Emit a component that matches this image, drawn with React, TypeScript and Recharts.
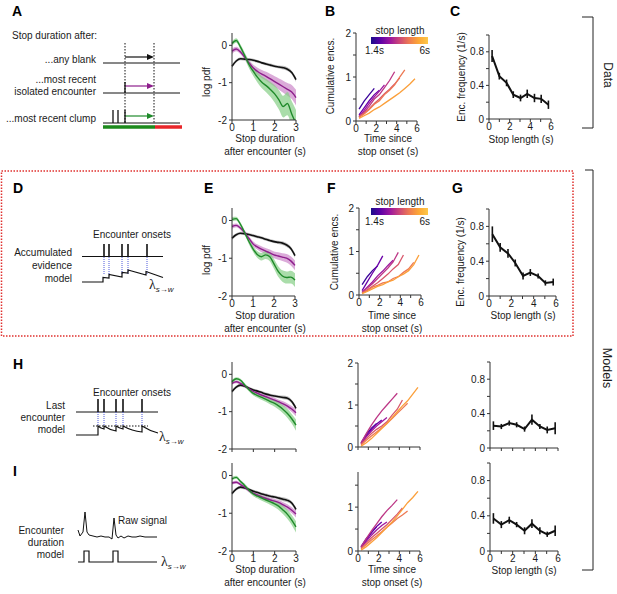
import React from 'react';
import { ComposedChart, LineChart, Line, Area, XAxis, YAxis, ErrorBar } from 'recharts';

const FONT = '"Liberation Sans", Arial, Helvetica, sans-serif';
const INK = '#1a1a1a';
const AXIS = '#333333';
const PURPLE = '#8e1f8c';
const PURPLE_FILL = '#cf8fcc';
const GREEN = '#1f8a2a';
const GREEN_FILL = '#86cf86';
const BLUE_DOT = '#3a48d8';
const RED_BOX = '#e0302e';

// log pdf panels: stop duration after encounter (s)
const PDF_X = [0, 0.2, 0.4, 0.6, 0.8, 1.0, 1.2, 1.4, 1.6, 1.8, 2.0, 2.2, 2.4, 2.6, 2.8, 3.0];
const BLACK_BAND = [0.05, 0.04, 0.04, 0.04, 0.04, 0.04, 0.04, 0.04, 0.04, 0.04, 0.04, 0.04, 0.05, 0.05, 0.05, 0.06];

const A_BLACK = [-0.56, -0.42, -0.36, -0.37, -0.38, -0.4, -0.43, -0.47, -0.5, -0.53, -0.56, -0.58, -0.6, -0.64, -0.73, -0.92];
const A_PURPLE = [-0.16, -0.1, -0.18, -0.32, -0.47, -0.61, -0.7, -0.77, -0.83, -0.9, -0.97, -1.04, -1.11, -1.18, -1.25, -1.4];
const A_GREEN = [0.05, 0.13, -0.05, -0.28, -0.52, -0.7, -0.86, -0.99, -1.08, -1.18, -1.3, -1.46, -1.64, -1.56, -1.84, -2.1];
const A_PURPLE_BAND = [0.07, 0.06, 0.06, 0.07, 0.08, 0.09, 0.1, 0.11, 0.12, 0.13, 0.14, 0.15, 0.16, 0.17, 0.19, 0.21];
const A_GREEN_BAND = [0.06, 0.06, 0.07, 0.08, 0.1, 0.12, 0.14, 0.16, 0.18, 0.2, 0.23, 0.26, 0.29, 0.31, 0.34, 0.37];

const E_BLACK = [-0.47, -0.38, -0.34, -0.35, -0.37, -0.4, -0.43, -0.46, -0.5, -0.53, -0.56, -0.58, -0.6, -0.65, -0.74, -0.93];
const E_PURPLE = [-0.16, -0.13, -0.2, -0.32, -0.47, -0.62, -0.7, -0.76, -0.81, -0.86, -0.91, -0.94, -0.97, -1.0, -1.07, -1.19];
const E_GREEN = [0.03, 0.05, -0.1, -0.32, -0.55, -0.75, -0.9, -0.96, -0.91, -0.96, -1.15, -1.35, -1.47, -1.51, -1.5, -1.58];
const E_PURPLE_BAND = [0.06, 0.05, 0.05, 0.06, 0.06, 0.07, 0.07, 0.08, 0.08, 0.09, 0.09, 0.1, 0.1, 0.11, 0.12, 0.13];
const E_GREEN_BAND = [0.06, 0.05, 0.05, 0.06, 0.07, 0.08, 0.09, 0.1, 0.11, 0.12, 0.13, 0.14, 0.15, 0.16, 0.17, 0.18];

const H_BLACK = [-0.46, -0.34, -0.29, -0.32, -0.37, -0.42, -0.45, -0.49, -0.53, -0.56, -0.58, -0.6, -0.62, -0.64, -0.73, -0.91];
const H_PURPLE = [-0.24, -0.2, -0.24, -0.31, -0.39, -0.46, -0.51, -0.56, -0.6, -0.65, -0.69, -0.74, -0.79, -0.85, -0.93, -1.03];
const H_GREEN = [-0.2, -0.12, -0.16, -0.29, -0.41, -0.51, -0.57, -0.62, -0.67, -0.73, -0.78, -0.85, -0.94, -1.05, -1.19, -1.36];
const H_PURPLE_BAND = [0.04, 0.04, 0.04, 0.04, 0.04, 0.05, 0.05, 0.05, 0.05, 0.06, 0.06, 0.06, 0.07, 0.07, 0.08, 0.09];
const H_GREEN_BAND = [0.05, 0.04, 0.04, 0.05, 0.05, 0.06, 0.06, 0.07, 0.07, 0.08, 0.09, 0.1, 0.11, 0.12, 0.13, 0.15];

const I_BLACK = [-0.48, -0.36, -0.31, -0.33, -0.37, -0.42, -0.45, -0.49, -0.52, -0.55, -0.57, -0.6, -0.63, -0.66, -0.73, -0.9];
const I_PURPLE = [-0.2, -0.18, -0.24, -0.31, -0.4, -0.47, -0.52, -0.57, -0.61, -0.65, -0.68, -0.72, -0.78, -0.84, -0.92, -1.02];
const I_GREEN = [-0.09, -0.05, -0.16, -0.27, -0.39, -0.49, -0.55, -0.6, -0.65, -0.7, -0.75, -0.82, -0.92, -1.03, -1.18, -1.36];
const I_PURPLE_BAND = [0.04, 0.04, 0.04, 0.04, 0.05, 0.05, 0.05, 0.05, 0.06, 0.06, 0.06, 0.07, 0.07, 0.08, 0.08, 0.09];
const I_GREEN_BAND = [0.05, 0.04, 0.04, 0.05, 0.05, 0.06, 0.06, 0.07, 0.07, 0.08, 0.09, 0.1, 0.11, 0.12, 0.13, 0.15];

// cumulative encounters vs time since stop onset, one line per stop-length bin
const CUM_X = [0.3, 0.8, 1.3, 1.8, 2.3, 2.8, 3.3, 3.8, 4.3, 4.8, 5.3, 5.8];
const STOP_COLORS = ['#3b049a', '#6a00a8', '#9c179e', '#bd3786', '#d8576b', '#ed7953', '#fb9f3a'];

const B_LINES = [
  [0.27, 0.45, 0.6, 0.74],
  [0.14, 0.3, 0.46, 0.6, 0.7],
  [0.1, 0.24, 0.4, 0.55, 0.68, 0.82],
  [0.1, 0.2, 0.34, 0.5, 0.6, 0.76, 0.92, 1.12],
  [0.1, 0.18, 0.28, 0.4, 0.5, 0.62, 0.72, 0.84, 0.98],
  [0.08, 0.16, 0.26, 0.38, 0.46, 0.6, 0.7, 0.82, 1.0, 1.16],
  [0.06, 0.12, 0.18, 0.26, 0.32, 0.4, 0.48, 0.56, 0.64, 0.74, 0.84, 0.96],
];
const F_LINES = [
  [0.24, 0.42, 0.56, 0.67],
  [0.1, 0.3, 0.5, 0.68, 0.9],
  [0.06, 0.18, 0.3, 0.44, 0.55, 0.68, 0.8],
  [0.06, 0.16, 0.26, 0.38, 0.5, 0.62, 0.76, 0.98],
  [0.05, 0.12, 0.2, 0.28, 0.38, 0.48, 0.6, 0.7, 0.92],
  [0.04, 0.1, 0.18, 0.22, 0.28, 0.3, 0.38, 0.42, 0.52, 0.6, 0.75],
  [0.03, 0.08, 0.14, 0.2, 0.24, 0.3, 0.34, 0.42, 0.48, 0.56, 0.7, 0.92],
];
const H_LINES = [
  [0.1, 0.3, 0.45, 0.56],
  [0.08, 0.26, 0.42, 0.55, 0.64],
  [0.08, 0.24, 0.38, 0.5, 0.6, 0.7],
  [0.1, 0.32, 0.52, 0.7, 0.86, 1.0, 1.14, 1.28],
  [0.06, 0.2, 0.32, 0.42, 0.5, 0.6, 0.76, 0.9, 1.12],
  [0.05, 0.16, 0.26, 0.36, 0.46, 0.56, 0.68, 0.8, 0.92, 1.04],
  [0.02, 0.1, 0.2, 0.32, 0.44, 0.56, 0.7, 0.84, 0.98, 1.1, 1.26, 1.42],
];
const I_LINES = [
  [0.1, 0.28, 0.42, 0.55],
  [0.08, 0.25, 0.42, 0.56, 0.66],
  [0.08, 0.22, 0.36, 0.48, 0.58, 0.66],
  [0.1, 0.28, 0.46, 0.62, 0.78, 0.92, 1.04, 1.17],
  [0.06, 0.18, 0.3, 0.4, 0.5, 0.6, 0.72, 0.84, 0.98],
  [0.05, 0.15, 0.25, 0.34, 0.44, 0.54, 0.64, 0.74, 0.82, 0.91],
  [0.02, 0.1, 0.2, 0.3, 0.42, 0.54, 0.66, 0.8, 0.95, 1.1, 1.22, 1.36],
];

// encounter frequency vs stop length
const STOP_X = [0.3, 1.0, 1.7, 2.35, 3.05, 3.7, 4.4, 5.05, 5.75];
const C_FREQ = [0.75, 0.51, 0.43, 0.29, 0.25, 0.3, 0.25, 0.24, 0.17];
const C_ERR = [0.07, 0.04, 0.04, 0.04, 0.04, 0.05, 0.05, 0.05, 0.05];
const G_FREQ = [0.71, 0.56, 0.49, 0.38, 0.23, 0.27, 0.23, 0.15, 0.16];
const G_ERR = [0.09, 0.05, 0.05, 0.04, 0.04, 0.04, 0.03, 0.03, 0.04];
const H_FREQ = [0.26, 0.25, 0.29, 0.27, 0.22, 0.33, 0.25, 0.21, 0.23];
const H_ERR = [0.05, 0.03, 0.03, 0.03, 0.03, 0.06, 0.03, 0.04, 0.07];
const I_FREQ = [0.37, 0.3, 0.35, 0.3, 0.23, 0.31, 0.23, 0.19, 0.23];
const I_ERR = [0.06, 0.04, 0.04, 0.03, 0.04, 0.05, 0.04, 0.03, 0.06];

const PDF_TICKS_X = [0, 1, 2, 3];
const PDF_TICKS_Y = [-2, -1, 0];
const SIX_TICKS = [0, 1, 2, 3, 4, 5, 6];
const FREQ_TICKS_Y = [0, 0.2, 0.4, 0.6, 0.8, 1.0];

const L = 30;
const R = 6;
const T = 6;
const B = 18;

const tickStyle = { fontSize: 10, fill: INK, fontFamily: FONT };
const evenOnly = (v: number) => (v % 2 === 0 ? String(v) : '');
const blank = () => '';

type Box = { x0: number; x1: number; top: number; bottom: number };

const frame = (b: Box): React.CSSProperties => ({ position: 'absolute', left: b.x0 - L, top: b.top - T });

interface PdfProps extends Box {
  black: number[];
  purple: number[];
  green: number[];
  purpleBand: number[];
  greenBand: number[];
  xLabels?: boolean;
}

const PdfChart: React.FC<PdfProps> = (p) => {
  const rows = PDF_X.map((x, i) => ({
    x,
    black: p.black[i],
    purple: p.purple[i],
    green: p.green[i],
    blackR: [p.black[i] - BLACK_BAND[i], p.black[i] + BLACK_BAND[i]],
    purpleR: [p.purple[i] - p.purpleBand[i], p.purple[i] + p.purpleBand[i]],
    greenR: [p.green[i] - p.greenBand[i], p.green[i] + p.greenBand[i]],
  }));
  return (
    <div style={frame(p)}>
      <ComposedChart width={p.x1 - p.x0 + L + R} height={p.bottom - p.top + T + B} data={rows}
        margin={{ top: T, right: R, bottom: 0, left: 0 }}>
        <XAxis type="number" dataKey="x" domain={[0, 3]} ticks={PDF_TICKS_X} interval={0} height={B}
          tick={tickStyle} tickSize={3} tickMargin={1} stroke={AXIS}
          tickFormatter={p.xLabels ? (v: number) => String(v) : blank} />
        <YAxis type="number" domain={[-2, 0.33]} allowDataOverflow ticks={PDF_TICKS_Y} interval={0} width={L}
          tick={tickStyle} tickSize={3} tickMargin={2} stroke={AXIS} />
        <Area dataKey="blackR" type="monotone" stroke="none" fill="#9a9a9a" fillOpacity={0.6} isAnimationActive={false} />
        <Area dataKey="purpleR" type="monotone" stroke="none" fill={PURPLE_FILL} fillOpacity={0.75} isAnimationActive={false} />
        <Area dataKey="greenR" type="monotone" stroke="none" fill={GREEN_FILL} fillOpacity={0.7} isAnimationActive={false} />
        <Line dataKey="black" type="monotone" stroke="#111" strokeWidth={1.6} dot={false} isAnimationActive={false} />
        <Line dataKey="purple" type="monotone" stroke={PURPLE} strokeWidth={1.4} dot={false} isAnimationActive={false} />
        <Line dataKey="green" type="monotone" stroke={GREEN} strokeWidth={1.4} dot={false} isAnimationActive={false} />
      </ComposedChart>
    </div>
  );
};

interface CumProps extends Box {
  lines: number[][];
  ymax: number;
  yTicks: number[];
  xLabels?: boolean;
}

const CumChart: React.FC<CumProps> = (p) => (
  <div style={frame(p)}>
    <LineChart width={p.x1 - p.x0 + L + R} height={p.bottom - p.top + T + B}
      margin={{ top: T, right: R, bottom: 0, left: 0 }}>
      <XAxis type="number" dataKey="x" domain={[0, 6]} ticks={SIX_TICKS} interval={0} height={B}
        tick={tickStyle} tickSize={3} tickMargin={1} stroke={AXIS}
        tickFormatter={p.xLabels ? evenOnly : blank} allowDuplicatedCategory={false} />
      <YAxis type="number" domain={[0, p.ymax]} ticks={p.yTicks} interval={0} width={L}
        tick={tickStyle} tickSize={3} tickMargin={2} stroke={AXIS}
        tickFormatter={(v: number) => (Number.isInteger(v) ? String(v) : '')} />
      {p.lines.map((ys, k) => (
        <Line key={`cum-${k}`} data={ys.map((y, i) => ({ x: CUM_X[i], y }))} dataKey="y" type="linear"
          stroke={STOP_COLORS[k]} strokeWidth={1.3} dot={false} isAnimationActive={false} />
      ))}
    </LineChart>
  </div>
);

interface FreqProps extends Box {
  values: number[];
  errors: number[];
  xLabels?: boolean;
}

const FreqChart: React.FC<FreqProps> = (p) => {
  const rows = STOP_X.map((x, i) => ({ x, y: p.values[i], e: p.errors[i] }));
  return (
    <div style={frame(p)}>
      <LineChart width={p.x1 - p.x0 + L + R} height={p.bottom - p.top + T + B} data={rows}
        margin={{ top: T, right: R, bottom: 0, left: 0 }}>
        <XAxis type="number" dataKey="x" domain={[0, 6]} ticks={SIX_TICKS} interval={0} height={B}
          tick={tickStyle} tickSize={3} tickMargin={1} stroke={AXIS}
          tickFormatter={p.xLabels ? evenOnly : blank} />
        <YAxis type="number" domain={[0, 1]} ticks={FREQ_TICKS_Y} interval={0} width={L}
          tick={tickStyle} tickSize={3} tickMargin={2} stroke={AXIS}
          tickFormatter={(v: number) => (v === 0 ? '0' : v === 0.4 || v === 0.8 ? String(v) : '')} />
        <Line dataKey="y" type="linear" stroke="#111" strokeWidth={2} dot={false} isAnimationActive={false}>
          <ErrorBar dataKey="e" direction="y" width={0} stroke="#111" strokeWidth={1.6} />
        </Line>
      </LineChart>
    </div>
  );
};

const ColorBar: React.FC<{ top: number }> = ({ top }) => (
  <div style={{ position: 'absolute', left: 371, top, width: 57, height: 7,
    background: 'linear-gradient(to right, #1b0c8a, #5c01a6, #9c179e, #cc4778, #ed7953, #fca636, #fdc84a)' }} />
);

const txt = { fontFamily: FONT, fontSize: 10, fill: INK } as const;

const Lambda: React.FC<{ x: number; y: number }> = ({ x, y }) => (
  <text x={x} y={y} fontFamily='"Liberation Serif", "DejaVu Serif", serif' fontSize={14} fill={INK}>
    λ<tspan fontFamily={FONT} fontSize={8} dy={3} fontStyle="italic">s→w</tspan>
  </text>
);

const Arrow: React.FC<{ y: number; color: string }> = ({ y, color }) => (
  <g>
    <line x1={125} y1={y} x2={149} y2={y} stroke={color} strokeWidth={1.2} />
    <polygon points={`154,${y} 147,${y - 3} 147,${y + 3}`} fill={color} />
  </g>
);

const Overlay: React.FC = () => {
  const dOnsets = [104, 109, 122, 128, 147];
  const hOnsets = [98, 104, 116, 123, 142];
  return (
    <svg width={617} height={594} style={{ position: 'absolute', left: 0, top: 0, pointerEvents: 'none' }}>
      {/* panel letters */}
      {[['A', 12, 16], ['B', 325, 16], ['C', 450, 16], ['D', 13, 193], ['E', 204, 193], ['F', 327, 193],
        ['G', 452, 193], ['H', 13, 369], ['I', 13, 476]].map(([s, x, y]) => (
        <text key={s as string} x={x as number} y={y as number} fontFamily={FONT} fontSize={14} fontWeight="bold" fill="#000">{s}</text>
      ))}

      {/* A schematic */}
      <text x={12} y={39} {...txt}>Stop duration after:</text>
      <text x={96} y={63} textAnchor="end" {...txt}>...any blank</text>
      <text x={96} y={83} textAnchor="end" {...txt}>...most recent</text>
      <text x={96} y={95} textAnchor="end" {...txt}>isolated encounter</text>
      <text x={96} y={122} textAnchor="end" {...txt}>...most recent clump</text>
      <line x1={103} y1={63} x2={180} y2={63} stroke="#111" strokeWidth={1} />
      <line x1={103} y1={93} x2={180} y2={93} stroke="#111" strokeWidth={1} />
      <line x1={103} y1={123} x2={180} y2={123} stroke="#111" strokeWidth={1} />
      <line x1={103} y1={127} x2={155} y2={127} stroke="#1c8a1c" strokeWidth={3.5} />
      <line x1={155} y1={127} x2={182} y2={127} stroke="#e8262a" strokeWidth={3.5} />
      <line x1={125} y1={43} x2={125} y2={123} stroke="#111" strokeWidth={1} strokeDasharray="1.5 1.5" />
      <line x1={154} y1={43} x2={154} y2={123} stroke="#111" strokeWidth={1} strokeDasharray="1.5 1.5" />
      <Arrow y={57} color="#111" />
      <Arrow y={86} color={PURPLE} />
      <Arrow y={116} color={GREEN} />
      <line x1={125} y1={82} x2={125} y2={93} stroke="#111" strokeWidth={1.3} />
      {[113, 118, 125].map((x) => (
        <line key={`c${x}`} x1={x} y1={110} x2={x} y2={123} stroke="#111" strokeWidth={1.3} />
      ))}

      {/* red dotted box */}
      <rect x={1.5} y={171} width={571.5} height={165} fill="none" stroke={RED_BOX} strokeWidth={1.5} strokeDasharray="1.5 1.5" />

      {/* D schematic */}
      <text x={132} y={238} textAnchor="middle" {...txt}>Encounter onsets</text>
      <text x={72} y={256} textAnchor="end" {...txt}>Accumulated</text>
      <text x={72} y={269} textAnchor="end" {...txt}>evidence</text>
      <text x={72} y={282} textAnchor="end" {...txt}>model</text>
      <line x1={82} y1={256.5} x2={163} y2={256.5} stroke="#111" strokeWidth={1} />
      {dOnsets.map((x) => (
        <g key={`d${x}`}>
          <line x1={x} y1={244} x2={x} y2={256} stroke="#111" strokeWidth={1.6} />
          <line x1={x} y1={257} x2={x} y2={274} stroke={BLUE_DOT} strokeWidth={0.9} strokeDasharray="1 1" />
        </g>
      ))}
      <path d="M82,282 H103 V277.5 L109,278 V274.5 L122,277 V272.5 L128,273 V270 L146,275 V271.5 L163,277.5"
        fill="none" stroke="#111" strokeWidth={1.2} />
      <Lambda x={149} y={289} />

      {/* H schematic */}
      <text x={132} y={396} textAnchor="middle" {...txt}>Encounter onsets</text>
      <text x={65} y={409} textAnchor="end" {...txt}>Last</text>
      <text x={65} y={421} textAnchor="end" {...txt}>encounter</text>
      <text x={65} y={433} textAnchor="end" {...txt}>model</text>
      <line x1={76} y1={412} x2={158} y2={412} stroke="#111" strokeWidth={1} />
      {hOnsets.map((x) => (
        <g key={`h${x}`}>
          <line x1={x} y1={399} x2={x} y2={412} stroke="#111" strokeWidth={1.6} />
          <line x1={x} y1={412} x2={x} y2={426} stroke={BLUE_DOT} strokeWidth={0.9} strokeDasharray="1 1" />
        </g>
      ))}
      <line x1={93} y1={426} x2={148} y2={426} stroke="#111" strokeWidth={1} strokeDasharray="1.5 1.5" />
      <path d="M76,435 H98 V426 Q100,428 104,429 V426 Q110,430 116,431 V426 Q119,428 123,429 V426 Q132,431 142,432 V426 Q150,431 158,433"
        fill="none" stroke="#111" strokeWidth={1.2} />
      <Lambda x={159} y={441} />

      {/* I schematic */}
      <text x={118} y={524} {...txt}>Raw signal</text>
      <text x={64} y={534} textAnchor="end" {...txt}>Encounter</text>
      <text x={64} y={546} textAnchor="end" {...txt}>duration</text>
      <text x={64} y={558} textAnchor="end" {...txt}>model</text>
      <path d="M78,530 L80,536 L83,532 L85,512 L87,532 L89,535 L93,536 L97,537 L101,536 L105,537 L109,537 L112,539 L114,518 L116,535 L118,538 L121,536 L124,538 L128,536 L132,537 L136,537 L140,536 L145,537 L150,537 L157,537"
        fill="none" stroke="#111" strokeWidth={1} />
      <path d="M78,562 H84 V551 H89 V562 H113 V551 H118 V562 H157" fill="none" stroke="#111" strokeWidth={1.2} />
      <Lambda x={161} y={566} />

      {/* axis titles */}
      {[82, 260].map((cy) => (
        <text key={`lp${cy}`} x={210} y={cy} transform={`rotate(-90 210 ${cy})`} textAnchor="middle" {...txt}>log pdf</text>
      ))}
      {[[142, 155], [319, 332], [573, 586]].map(([a, b2]) => (
        <g key={`sd${a}`}>
          <text x={265} y={a} textAnchor="middle" {...txt}>Stop duration</text>
          <text x={265} y={b2} textAnchor="middle" {...txt}>after encounter (s)</text>
        </g>
      ))}
      {[[334, 76], [338, 252]].map(([x, cy]) => (
        <text key={`ce${cy}`} x={x} y={cy} transform={`rotate(-90 ${x} ${cy})`} textAnchor="middle" {...txt}>Cumulative encs.</text>
      ))}
      {[[388, 142, 155], [392, 319, 332], [392, 573, 586]].map(([x, a, b2]) => (
        <g key={`ts${a}`}>
          <text x={x} y={a} textAnchor="middle" {...txt}>Time since</text>
          <text x={x} y={b2} textAnchor="middle" {...txt}>stop onset (s)</text>
        </g>
      ))}
      {[[465, 77], [464, 262]].map(([x, cy]) => (
        <text key={`ef${cy}`} x={x} y={cy} transform={`rotate(-90 ${x} ${cy})`} textAnchor="middle" {...txt}>Enc. frequency (1/s)</text>
      ))}
      {[[521, 143], [523, 319], [524, 574]].map(([x, y]) => (
        <text key={`sl${y}`} x={x} y={y} textAnchor="middle" {...txt}>Stop length (s)</text>
      ))}

      {/* colour bar labels */}
      {[34, 205].map((y) => (
        <g key={`cb${y}`}>
          <text x={400} y={y} textAnchor="middle" {...txt}>stop length</text>
          <text x={365} y={y + 20} {...txt}>1.4s</text>
          <text x={430} y={y + 20} textAnchor="end" {...txt}>6s</text>
        </g>
      ))}

      {/* brackets */}
      <path d="M582,17 H593 V128 H582" fill="none" stroke="#222" strokeWidth={1} />
      <text x={604} y={75} transform="rotate(90 604 75)" textAnchor="middle" fontFamily={FONT} fontSize={12} fill={INK}>Data</text>
      <path d="M585,170 H593 V570 H582" fill="none" stroke="#222" strokeWidth={1} />
      <text x={603} y={368} transform="rotate(90 603 368)" textAnchor="middle" fontFamily={FONT} fontSize={12.5} fill={INK}>Models</text>
    </svg>
  );
};

export default function App() {
  return (
    <div style={{ position: 'fixed', left: 0, top: 0, width: 617, height: 594, background: '#fff', overflow: 'hidden', fontFamily: FONT }}>
      <PdfChart x0={232} x1={296} top={33} bottom={120} black={A_BLACK} purple={A_PURPLE} green={A_GREEN}
        purpleBand={A_PURPLE_BAND} greenBand={A_GREEN_BAND} xLabels />
      <PdfChart x0={232} x1={295} top={208} bottom={296} black={E_BLACK} purple={E_PURPLE} green={E_GREEN}
        purpleBand={E_PURPLE_BAND} greenBand={E_GREEN_BAND} xLabels />
      <PdfChart x0={232} x1={296} top={362} bottom={449} black={H_BLACK} purple={H_PURPLE} green={H_GREEN}
        purpleBand={H_PURPLE_BAND} greenBand={H_GREEN_BAND} />
      <PdfChart x0={232} x1={296} top={463} bottom={551} black={I_BLACK} purple={I_PURPLE} green={I_GREEN}
        purpleBand={I_PURPLE_BAND} greenBand={I_GREEN_BAND} xLabels />

      <CumChart x0={356} x1={417} top={33} bottom={121} lines={B_LINES} ymax={2} yTicks={[0, 0.5, 1, 1.5, 2]} xLabels />
      <CumChart x0={359} x1={421} top={208} bottom={295} lines={F_LINES} ymax={2} yTicks={[0, 0.5, 1, 1.5, 2]} xLabels />
      <CumChart x0={358} x1={420} top={363} bottom={447} lines={H_LINES} ymax={2} yTicks={[0, 0.5, 1, 1.5, 2]} />
      <CumChart x0={358} x1={420} top={472} bottom={551} lines={I_LINES} ymax={1.8} yTicks={[0, 0.5, 1, 1.5]} xLabels />

      <FreqChart x0={489} x1={551} top={35} bottom={119} values={C_FREQ} errors={C_ERR} xLabels />
      <FreqChart x0={489} x1={556} top={209} bottom={296} values={G_FREQ} errors={G_ERR} xLabels />
      <FreqChart x0={490} x1={558} top={362} bottom={448} values={H_FREQ} errors={H_ERR} />
      <FreqChart x0={490} x1={558} top={463} bottom={551} values={I_FREQ} errors={I_ERR} xLabels />

      <ColorBar top={37} />
      <ColorBar top={208} />
      <Overlay />
    </div>
  );
}
